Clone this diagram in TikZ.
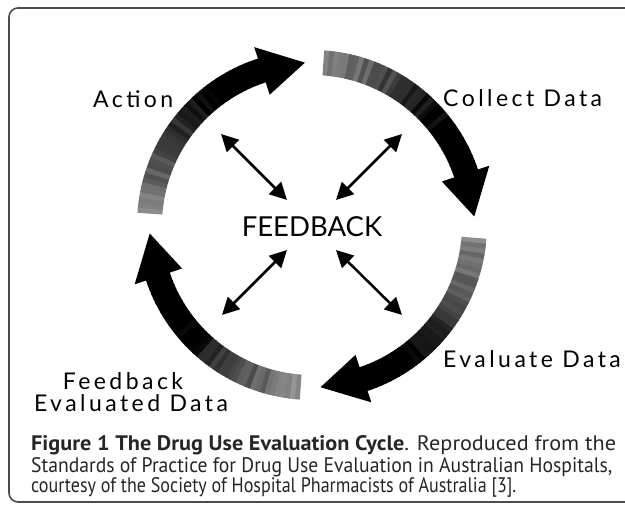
\documentclass[tikz,border=0pt]{standalone}
\usepackage{fontspec}
\setmainfont{PT Sans}
\newfontfamily\lblfont[LetterSpace=15]{Lato}
\newfontfamily\fbfont{Lato}
\usetikzlibrary{arrows.meta}
\definecolor{capcol}{gray}{0.15}
\definecolor{framecol}{gray}{0.3}
\newcommand{\capline}[2]{\resizebox{#1pt}{\height}{#2}}
\begin{document}
\begin{tikzpicture}[x=1pt,y=-1pt,
  lbl/.style={font=\lblfont\fontsize{23}{27}\selectfont, inner sep=0pt, text=black},
  fbk/.style={font=\fbfont\fontsize{27.5}{30}\selectfont, inner sep=0pt, text=black},
  captxt/.style={font=\fontsize{21}{24}\selectfont, inner sep=0pt, anchor=base west, text=capcol},
  dbl/.style={{Triangle[length=17pt,width=17pt]}-{Triangle[length=17pt,width=17pt]}, line width=2.5pt},
]
\useasboundingbox (0,0) rectangle (625,505);
\clip (0,0) rectangle (625,505);
\fill[white] (0,0) rectangle (625,505);
% frame
\draw[framecol, line width=1.6pt, rounded corners=9pt] (660,502) -- (9,502) -- (9,8) -- (660,8);

% cycle arcs
\pgfmathsetseed{7}
\begin{scope}[shift={(312,225)}, yscale=-1]
\foreach \s/\t in {176/92.5, 86/3, -4.5/-87, -94/-177} {
  \pgfmathsetmacro\h{\t+15.5}
  \foreach \i in {0,...,39} {
    \pgfmathsetmacro\a{\s-(\s-\h)*\i/40}
    \pgfmathsetmacro\b{\s-(\s-\h)*(\i+1)/40-0.4}
    \pgfmathsetmacro\k{max(40,min(100,46+54*\i/27+8*rand))}
    \fill[black!\k] (\a:150) arc[start angle=\a, end angle=\b, radius=150]
      -- (\b:175) arc[start angle=\b, end angle=\a, radius=175] -- cycle;
  }
  \fill[black] (\h:137) -- (\t:162.5) -- (\h:187) -- cycle;
}
\end{scope}

% center
\node[fbk] (fb) at (312,227) {FEEDBACK};
\coordinate (ul1) at (221,134); \coordinate (ul2) at (287,200);
\coordinate (ur1) at (402,134); \coordinate (ur2) at (336,200);
\coordinate (ll1) at (287,250); \coordinate (ll2) at (222,315);
\coordinate (lr1) at (336,250); \coordinate (lr2) at (402,315);
\draw[dbl] (ul1) -- (ul2);
\draw[dbl] (ur1) -- (ur2);
\draw[dbl] (ll1) -- (ll2);
\draw[dbl] (lr1) -- (lr2);

% labels
\node[lbl, anchor=base west] (act) at (93,108) {Action};
\node[lbl, anchor=base west] (col) at (443,107) {Collect Data};
\node[lbl, anchor=base west] (eva) at (443,368) {Evaluate Data};
\node[lbl, anchor=base] (fdb) at (123,390) {Feedback};
\node[lbl, anchor=base] (evd) at (131,412) {Evaluated Data};

% caption
\node[captxt] (c1) at (31,451) {\capline{585}{\textbf{Figure 1 The Drug Use Evaluation Cycle}. Reproduced from the}};
\node[captxt] (c2) at (31,472) {\capline{581}{Standards of Practice for Drug Use Evaluation in Australian Hospitals,}};
\node[captxt] (c3) at (31,493) {\capline{485}{courtesy of the Society of Hospital Pharmacists of Australia [3].}};
\end{tikzpicture}
\end{document}
